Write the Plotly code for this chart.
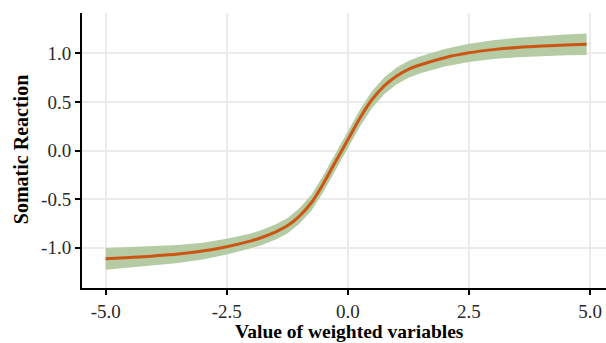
import plotly.graph_objects as go

# Data
x_vals = [-5.0, -4.5, -4.0, -3.5, -3.0, -2.5, -2.0, -1.75, -1.5, -1.25, -1.0, -0.75,
          -0.5, -0.25, 0.0, 0.25, 0.5, 0.75, 1.0, 1.25, 1.5, 2.0, 2.5, 3.0, 3.5,
          4.0, 4.5, 4.93]
y_fit = [-1.115, -1.10, -1.085, -1.065, -1.035, -0.99, -0.93, -0.89, -0.84, -0.775,
         -0.675, -0.535, -0.335, -0.11, 0.11, 0.335, 0.525, 0.665, 0.765, 0.835, 0.882,
         0.955, 1.005, 1.038, 1.06, 1.075, 1.086, 1.093]
half_width = [0.112, 0.105, 0.098, 0.092, 0.086, 0.081, 0.077, 0.077, 0.078, 0.079,
              0.08, 0.083, 0.086, 0.088, 0.088, 0.088, 0.087, 0.086, 0.086, 0.087, 0.088,
              0.09, 0.093, 0.096, 0.1, 0.103, 0.107, 0.11]

x_ticks = [-5.0, -2.5, 0.0, 2.5, 5.0]
x_tick_labels = ["-5.0", "-2.5", "0.0", "2.5", "5.0"]
y_ticks = [-1.0, -0.5, 0.0, 0.5, 1.0]
y_tick_labels = ["-1.0", "-0.5", "0.0", "0.5", "1.0"]
x_title = "Value of weighted variables"
y_title = "Somatic Reaction"

upper = [y + h for y, h in zip(y_fit, half_width)]
lower = [y - h for y, h in zip(y_fit, half_width)]

fig = go.Figure()
fig.add_trace(go.Scatter(
    x=x_vals + x_vals[::-1], y=upper + lower[::-1],
    fill="toself", fillcolor="rgb(180,203,164)",
    line=dict(width=0),
    mode="lines", hoverinfo="skip", showlegend=False))
fig.add_trace(go.Scatter(
    x=x_vals, y=y_fit, mode="lines",
    line=dict(color="rgb(204,85,20)", width=3, shape="spline", smoothing=1.0),
    showlegend=False))

font_family = "Liberation Serif"
axis_common = dict(
    showline=True, linecolor="black", linewidth=2,
    ticks="outside", ticklen=5, tickwidth=2, tickcolor="black",
    showgrid=True, gridcolor="#ebebeb", gridwidth=1.5,
    zeroline=False, automargin=False,
    tickfont=dict(family=font_family, size=19, color="#2a2a2a"),
)

fig.update_layout(
    width=606, height=343,
    margin=dict(l=82, r=0, t=13, b=55),
    plot_bgcolor="white", paper_bgcolor="white",
    xaxis=dict(range=[-5.49, 5.33], tickvals=x_ticks, ticktext=x_tick_labels,
               **axis_common),
    yaxis=dict(range=[-1.415, 1.415], tickvals=y_ticks, ticktext=y_tick_labels,
               **axis_common),
    annotations=[
        dict(text="<b>" + x_title + "</b>", xref="paper", yref="paper",
             x=0.51, y=-0.158, xanchor="center", yanchor="middle", showarrow=False,
             font=dict(family=font_family, size=19.5, color="black")),
        dict(text="<b>" + y_title + "</b>", xref="paper", yref="paper",
             x=-0.116, y=0.502, xanchor="center", yanchor="middle", showarrow=False,
             textangle=-90,
             font=dict(family=font_family, size=20, color="black")),
    ],
)

fig.write_html("out.html")
